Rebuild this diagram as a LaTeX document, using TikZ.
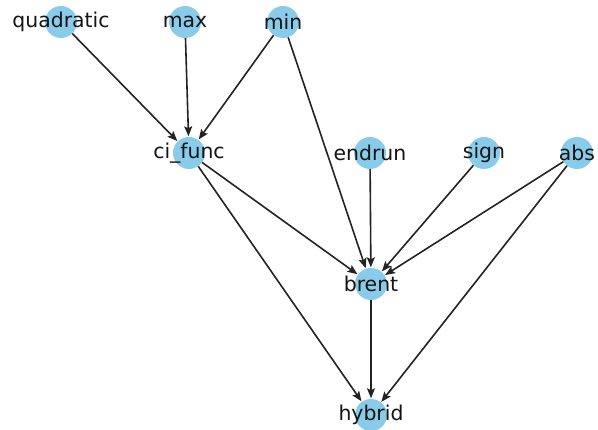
\documentclass[tikz,border=0pt]{standalone}
\usepackage{fontspec}
\setmainfont{DejaVu Sans}
\usetikzlibrary{arrows.meta}
\definecolor{nodeblue}{RGB}{137,204,234}
\definecolor{edgegray}{RGB}{35,35,35}
\definecolor{txt}{RGB}{20,20,20}
\begin{document}
\begin{tikzpicture}[x=1pt,y=-1pt,
  dot/.style={circle,fill=nodeblue,draw=none,minimum size=32pt,inner sep=0pt},
  lbl/.style={text=txt,font=\fontsize{20.4}{24}\selectfont,inner sep=0pt,anchor=center},
  edge/.style={draw=edgegray,line width=1.6pt,-{Stealth[length=10pt,width=8pt,inset=2pt]},shorten >=0.5pt}]
\useasboundingbox (0,0) rectangle (598,430);
\node[dot] (quadratic) at (61,22) {};
\node[dot] (max) at (185,22) {};
\node[dot] (min) at (283,22) {};
\node[dot] (cifunc) at (189,153) {};
\node[dot] (endrun) at (370,153) {};
\node[dot] (sign) at (484,153) {};
\node[dot] (abs) at (577,153) {};
\node[dot] (brent) at (371,284) {};
\node[dot] (hybrid) at (371,415) {};
\draw[edge] (quadratic) -- (cifunc);
\draw[edge] (max) -- (cifunc);
\draw[edge] (min) -- (cifunc);
\draw[edge] (min) -- (brent);
\draw[edge] (cifunc) -- (brent);
\draw[edge] (cifunc) -- (hybrid);
\draw[edge] (endrun) -- (brent);
\draw[edge] (sign) -- (brent);
\draw[edge] (abs) -- (brent);
\draw[edge] (abs) -- (hybrid);
\draw[edge] (brent) -- (hybrid);
\node[lbl] (tquadratic) at (quadratic) {quadratic};
\node[lbl] (tmax) at (max) {max};
\node[lbl] (tmin) at (min) {min};
\node[lbl] (tcifunc) at (cifunc) {ci\_func};
\node[lbl] (tendrun) at (endrun) {endrun};
\node[lbl] (tsign) at (sign) {sign};
\node[lbl] (tabs) at (abs) {abs};
\node[lbl] (tbrent) at (brent) {brent};
\node[lbl] (thybrid) at (hybrid) {hybrid};
\end{tikzpicture}
\end{document}
